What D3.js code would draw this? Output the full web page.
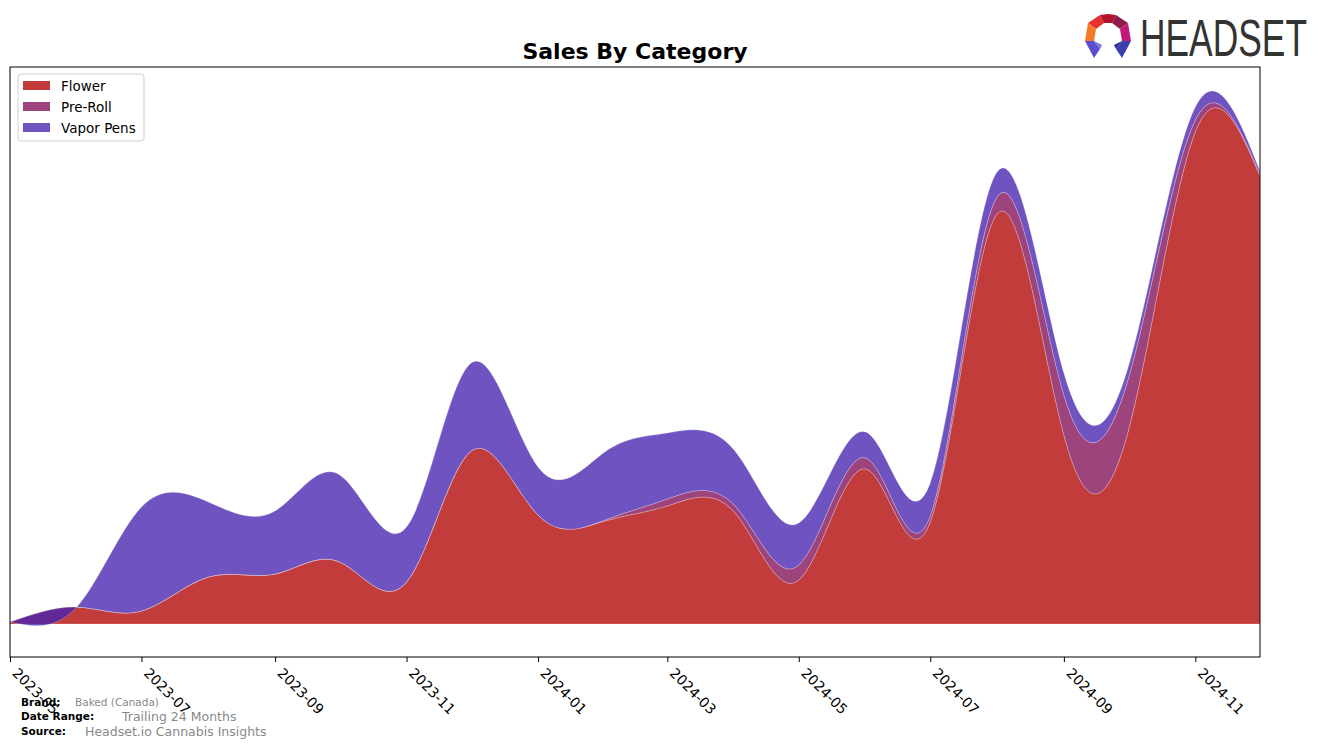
<!DOCTYPE html>
<html>
<head>
<meta charset="utf-8">
<script src="https://cdn.jsdelivr.net/npm/d3@7"></script>
<style>
  html, body { margin: 0; padding: 0; background: #fff; }
  svg { display: block; font-family: "DejaVu Sans", sans-serif; }
</style>
</head>
<body>
<svg id="chart" width="1324" height="747"></svg>
<script>
// ---- data ----
const months = ["2023-05","2023-06","2023-07","2023-08","2023-09","2023-10","2023-11","2023-12",
                "2024-01","2024-02","2024-03","2024-04","2024-05","2024-06","2024-07","2024-08",
                "2024-09","2024-10","2024-11","2024-12"];
const flower   = [2, 17, 13, 47, 50, 62, 42, 173, 109, 103, 118, 112, 44, 155, 102, 410, 189, 194, 492, 448];
const preRoll  = [0, 0, 0, 0, 0, 0, 0, 0, 0, 1, 7, 7, 15, 11, 6, 17, 40, 52, 12, 2];
const vaporPens= [0, 0, 104, 75, 63, 87, 55, 88, 48, 68, 66, 55, 42, 26, 33, 25, 22, 12, 13, 3];
const seriesNames = ["Flower", "Pre-Roll", "Vapor Pens"];
const tickLabels = ["2023-05","2023-07","2023-09","2023-11","2024-01","2024-03","2024-05","2024-07","2024-09","2024-11"];
const colors = ["#b20505", "#810f58", "#4623ae"];

// ---- layout ----
const svg = d3.select("#chart");
const L = 10, R = 1260, T = 67, B = 657;
const parse = d3.timeParse("%Y-%m");

const rows = months.map((m, i) => ({
  date: parse(m), "Flower": flower[i], "Pre-Roll": preRoll[i], "Vapor Pens": vaporPens[i]
}));

const x = d3.scaleTime().domain([parse(months[0]), parse(months[months.length - 1])]).range([L, R]);
const y = d3.scaleLinear().domain([-33, 557]).range([B, T]);

const stack = d3.stack().keys(seriesNames).offset(d3.stackOffsetNone);
const layers = stack(rows);

const area = d3.area()
  .x(d => x(d.data.date))
  .y0(d => y(d[0]))
  .y1(d => y(d[1]))
  .curve(d3.curveNatural);

svg.append("clipPath").attr("id", "clip")
  .append("rect").attr("x", L).attr("y", T).attr("width", R - L).attr("height", B - T);

const g = svg.append("g").attr("clip-path", "url(#clip)");
g.selectAll("path.layer").data(layers).enter().append("path")
  .attr("class", "layer")
  .attr("d", area)
  .attr("fill", (d, i) => colors[i])
  .attr("fill-opacity", 0.78)
  .attr("stroke", "#ffffff")
  .attr("stroke-opacity", 0.3)
  .attr("stroke-width", 0.8);

// frame
svg.append("rect").attr("x", L).attr("y", T).attr("width", R - L).attr("height", B - T)
  .attr("fill", "none").attr("stroke", "#000").attr("stroke-width", 1);

// x axis
const tickDates = tickLabels.map(parse);
const axis = svg.append("g").attr("transform", `translate(0,${B})`)
  .call(d3.axisBottom(x).tickValues(tickDates).tickFormat(d3.timeFormat("%Y-%m")).tickSize(5).tickSizeOuter(0));
axis.select(".domain").remove();
axis.selectAll(".tick line").attr("stroke", "#000");
axis.selectAll(".tick text")
  .attr("font-family", "DejaVu Sans, sans-serif")
  .attr("font-size", 14)
  .attr("fill", "#000")
  .attr("text-anchor", "start")
  .attr("dy", null)
  .attr("y", 0)
  .attr("transform", "translate(1,17) rotate(45)")
  .attr("dominant-baseline", "auto");

// title
svg.append("text").attr("x", 635).attr("y", 59).attr("text-anchor", "middle")
  .attr("font-size", 22).attr("font-weight", "bold").attr("fill", "#000").text("Sales By Category");

// legend
const lg = svg.append("g").attr("transform", "translate(18,74)");
lg.append("rect").attr("width", 126).attr("height", 67).attr("rx", 3)
  .attr("fill", "#fff").attr("fill-opacity", 0.8).attr("stroke", "#d0d0d0");
seriesNames.forEach((n, i) => {
  lg.append("rect").attr("x", 5).attr("y", 7 + i * 21).attr("width", 27).attr("height", 9)
    .attr("fill", colors[i]).attr("fill-opacity", 0.78);
  lg.append("text").attr("x", 43).attr("y", 17 + i * 21).attr("font-size", 13.5).attr("fill", "#000").text(n);
});

// footer
const ft = svg.append("g");
ft.append("text").attr("x", 21).attr("y", 706).attr("font-size", 10.5).attr("font-weight", "bold").text("Brand:");
ft.append("text").attr("x", 75).attr("y", 706).attr("font-size", 10.5).attr("fill", "#888").text("Baked (Canada)");
ft.append("text").attr("x", 21).attr("y", 720).attr("font-size", 10.5).attr("font-weight", "bold").text("Date Range:");
ft.append("text").attr("x", 122).attr("y", 721).attr("font-size", 12.5).attr("fill", "#888").text("Trailing 24 Months");
ft.append("text").attr("x", 21).attr("y", 735).attr("font-size", 10.5).attr("font-weight", "bold").text("Source:");
ft.append("text").attr("x", 85).attr("y", 736).attr("font-size", 12.5).attr("fill", "#888").text("Headset.io Cannabis Insights");

// logo
const lo = svg.append("g").attr("transform", "translate(1108,37)");
const seg = [
  {p: "M-20,-14 L-8,-22 L-4,-14 L-12,-8 Z", c: "#e8312f"},
  {p: "M-8,-22 L0,-23 L8,-22 L4,-14 L-4,-14 Z", c: "#b3122e"},
  {p: "M8,-22 L20,-14 L12,-8 L4,-14 Z", c: "#8e1b4b"},
  {p: "M20,-14 L23,4 L14,4 L12,-8 Z", c: "#c2187a"},
  {p: "M-20,-14 L-12,-8 L-14,4 L-23,4 Z", c: "#f47a2a"},
  {p: "M-23,4 L-14,4 L-8,12 L-14,21 Z", c: "#5a4fd0"},
  {p: "M23,4 L14,4 L8,12 L14,21 Z", c: "#3b3fb0"},
  {p: "M-14,4 L-8,12 L-6,8 Z", c: "#7b74e0"},
  {p: "M14,4 L8,12 L6,8 Z", c: "#2b2a8a"}
];
seg.forEach(s => lo.append("path").attr("d", s.p).attr("fill", s.c));
svg.append("text").attr("x", 1140).attr("y", 56).attr("font-family", "Liberation Sans Narrow, Liberation Sans, sans-serif")
  .attr("font-size", 52).attr("fill", "#333").attr("textLength", 167).attr("lengthAdjust", "spacingAndGlyphs").text("HEADSET");
</script>
</body>
</html>
